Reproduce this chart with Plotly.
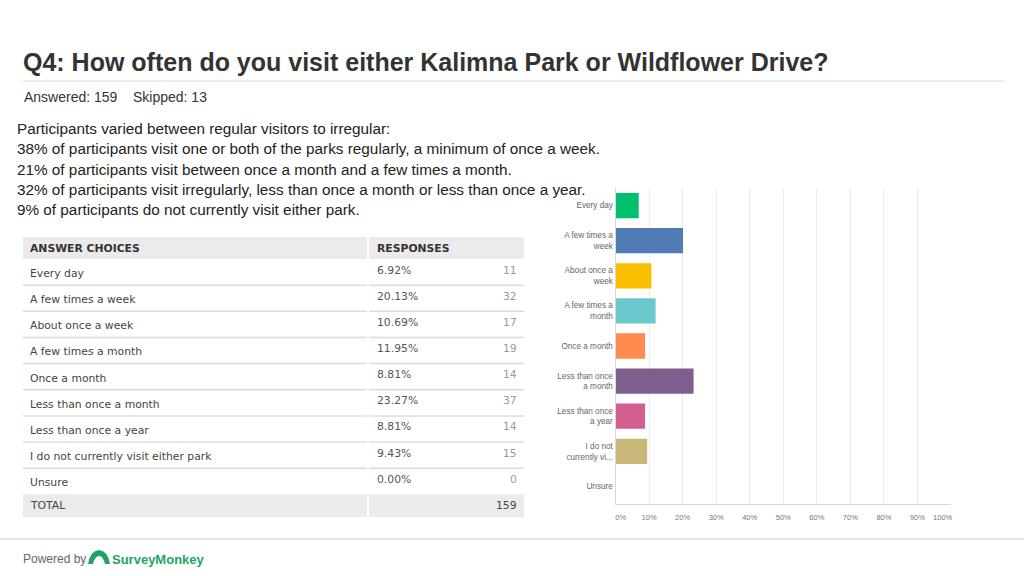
import plotly.graph_objects as go

# ---- data ----
choices = ["Every day", "A few times a week", "About once a week", "A few times a month",
           "Once a month", "Less than once a month", "Less than once a year",
           "I do not currently visit either park", "Unsure"]
percents = [6.92, 20.13, 10.69, 11.95, 8.81, 23.27, 8.81, 9.43, 0.00]
counts = [11, 32, 17, 19, 14, 37, 14, 15, 0]
total = 159
chart_labels = ["Every day", "A few times a<br>week", "About once a<br>week", "A few times a<br>month",
                "Once a month", "Less than once<br>a month", "Less than once<br>a year",
                "I do not<br>currently vi...", "Unsure"]
x_ticks = [0, 10, 20, 30, 40, 50, 60, 70, 80, 90, 100]
title = "Q4: How often do you visit either Kalimna Park or Wildflower Drive?"
answered_text = "Answered: 159"
skipped_text = "Skipped: 13"
summary_lines = [
    "Participants varied between regular visitors to irregular:",
    "38% of participants visit one or both of the parks regularly, a minimum of once a week.",
    "21% of participants visit between once a month and a few times a month.",
    "32% of participants visit irregularly, less than once a month or less than once a year.",
    "9% of participants do not currently visit either park.",
]

# ---- style ----
bar_colors = ["#00BF6F", "#507CB6", "#F9BE00", "#6BC8CD", "#FF8B4F",
              "#7D5E8D", "#D25F90", "#C9B77A", "#999999"]
W, H = 1024, 576
NB = "\u00a0"

# tick labels: end labels nudged inward like the original chart
x_ticktext = [f"{t}%" for t in x_ticks]
x_ticktext[0] = NB * 5 + x_ticktext[0]
x_ticktext[-1] = x_ticktext[-1] + NB * 8


def px(x):
    return x / W


def py(y):
    return 1 - y / H


def note(text, x, y, size, color, family, anchor="left"):
    return dict(text=text, x=px(x), y=py(y), xref="paper", yref="paper",
                xanchor=anchor, yanchor="middle", showarrow=False,
                font=dict(family=family, size=size, color=color))


fig = go.Figure()
fig.add_trace(go.Bar(
    x=percents, y=chart_labels, orientation="h",
    marker=dict(color=bar_colors, line=dict(width=0)),
    hoverinfo="skip",
))

annotations = []
shapes = []

# title and header
annotations.append(note(f"<b>{title}</b>", 20.5, 62, 25, "#333333", "Liberation Sans, Arial"))
shapes.append(dict(type="line", xref="paper", yref="paper", x0=px(23), x1=px(1005), y0=py(81), y1=py(81),
                   line=dict(color="#dddddd", width=1)))
annotations.append(note(answered_text, 22, 97, 14, "#333333", "Liberation Sans Narrow, Liberation Sans"))
annotations.append(note(skipped_text, 131, 97, 14, "#333333", "Liberation Sans Narrow, Liberation Sans"))

# summary text
line_y = [128, 148, 169, 189, 209]
for txt, yy in zip(summary_lines, line_y):
    annotations.append(note(txt, 14.5, yy, 15.3, "#222222", "Liberation Sans Narrow, Liberation Sans"))

# table
tl, tsplit, tr = 23, 368, 524
for a, b in ((tl, tsplit - 1), (tsplit + 1, tr)):
    shapes.append(dict(type="rect", xref="paper", yref="paper", x0=px(a), x1=px(b), y0=py(237), y1=py(259),
                       fillcolor="#ebebeb", line=dict(width=0), layer="below"))
tfont = "DejaVu Sans, Verdana"
annotations.append(note("<b>ANSWER CHOICES</b>", 28, 248, 10.8, "#333333", tfont))
annotations.append(note("<b>RESPONSES</b>", 375, 248, 10.8, "#333333", tfont))
row_h = 26.15
top0 = 259
for i, (c, p, n) in enumerate(zip(choices, percents, counts)):
    top = top0 + row_h * i
    annotations.append(note(c, 28, top + 14.5, 10.8, "#444444", tfont))
    annotations.append(note(f"{p:.2f}%", 375, top + 11, 10.8, "#555555", tfont))
    annotations.append(note(str(n), 519, top + 11, 10.8, "#9a9a9a", tfont, anchor="right"))
    bot = top + row_h
    if i < len(choices) - 1:
        for a, b in ((tl, tsplit - 1), (tsplit + 1, tr)):
            shapes.append(dict(type="line", xref="paper", yref="paper", x0=px(a), x1=px(b), y0=py(bot), y1=py(bot),
                               line=dict(color="#dcdcdc", width=1.5)))
tot_top = top0 + row_h * len(choices)
for a, b in ((tl, tsplit - 1), (tsplit + 1, tr)):
    shapes.append(dict(type="rect", xref="paper", yref="paper", x0=px(a), x1=px(b), y0=py(tot_top), y1=py(517),
                       fillcolor="#ebebeb", line=dict(width=0), layer="below"))
annotations.append(note("TOTAL", 28, (tot_top + 517) / 2, 10.8, "#444444", tfont))
annotations.append(note(str(total), 519, (tot_top + 517) / 2, 10.8, "#444444", tfont, anchor="right"))

# footer
shapes.append(dict(type="line", xref="paper", yref="paper", x0=0, x1=1, y0=py(539), y1=py(539),
                   line=dict(color="#dcdcdc", width=1.5)))
annotations.append(note("Powered by", 21, 559, 12, "#666666", "Liberation Sans, Arial"))
logo_path = (f"M {px(88)},{py(564)} Q {px(90)},{py(551)} {px(99)},{py(550)} "
             f"Q {px(108)},{py(551)} {px(110)},{py(564)} L {px(105)},{py(564)} "
             f"Q {px(103)},{py(556)} {px(99)},{py(556)} Q {px(95)},{py(556)} {px(93)},{py(564)} Z")
shapes.append(dict(type="path", xref="paper", yref="paper", path=logo_path,
                   fillcolor="#1FA463", line=dict(width=0)))
annotations.append(note("<b>SurveyMonkey</b>", 110, 559, 13, "#1FA463", "Liberation Sans, Arial"))

fig.update_layout(
    width=W, height=H,
    margin=dict(l=0, r=0, t=0, b=0, autoexpand=False),
    paper_bgcolor="white", plot_bgcolor="white",
    showlegend=False,
    bargap=0.28,
    annotations=annotations,
    shapes=shapes,
    xaxis=dict(domain=[px(615.5), px(951)], range=[0, 100], tickvals=x_ticks, ticktext=x_ticktext,
               automargin=False,
               showgrid=True, gridcolor="#ececec", gridwidth=1, zeroline=False,
               showline=True, linecolor="#d8d8d8", linewidth=1, ticks="", ticklabelstandoff=6,
               tickfont=dict(family="Liberation Sans, Arial", size=7.5, color="#777777"), fixedrange=True),
    yaxis=dict(domain=[py(504), py(188)], autorange="reversed", showgrid=False, zeroline=False,
               automargin=False,
               showline=True, linecolor="#d8d8d8", linewidth=1, ticks="",
               tickfont=dict(family="Liberation Sans, Arial", size=8.2, color="#666666"), fixedrange=True),
)

fig.write_html("out.html", config={"displayModeBar": False},
               post_script="document.body.style.margin='0px';")
